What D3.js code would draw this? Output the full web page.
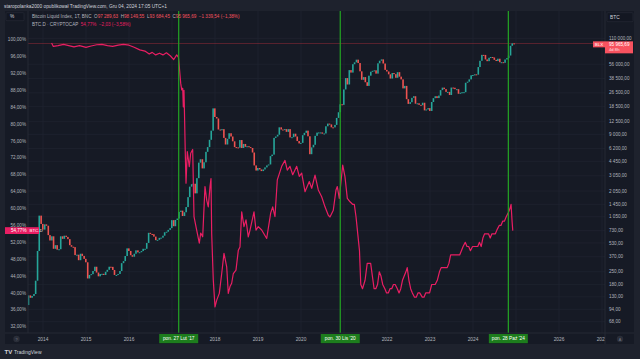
<!DOCTYPE html>
<html><head><meta charset="utf-8">
<script src="https://cdn.jsdelivr.net/npm/d3@7"></script>
<style>
html,body{margin:0;padding:0;background:#1e222d;overflow:hidden}
svg{display:block;font-family:"Liberation Sans","Noto Sans",sans-serif}
text{white-space:pre}
</style></head><body><svg id="c" width="640" height="359"></svg>
<script>
// ---- DATA ----
// BTC (Bitcoin Liquid Index) closes, two per month (mid-month, month-end), starting Aug 2013
const priceStartYear = 2013, priceStartMonth = 7; // Aug 2013 (0-based month)
const btcClose = [
 105,135, 127,133, 140,198, 430,1080, 870,750,
 860,830, 650,565, 630,455, 500,445, 450,630, 590,640, 620,585, 500,480, 475,386, 390,338, 400,378, 350,320,
 210,230, 235,255, 285,245, 222,236, 237,230, 250,263, 285,284, 262,230, 230,236, 255,313, 330,377, 460,430,
 385,370, 400,437, 415,416, 429,455, 455,530, 690,670, 665,625, 570,575, 605,608, 640,700, 710,745, 780,960,
 820,965, 1000,1190, 1230,1070, 1180,1350, 1750,2300, 2450,2480, 1930,2870, 4300,4700, 3700,4340, 5700,6450, 7800,9900, 17700,14150,
 13600,10200, 10000,10300, 8200,6900, 8000,9250, 8500,7500, 6450,6400, 6350,7750, 6300,7000, 6500,6600, 6450,6300, 5600,4000, 3500,3740,
 3600,3450, 3600,3800, 4000,4100, 5100,5300, 8200,8500, 8900,10800, 10200,10100, 10300,9600, 10300,8300, 8350,9150, 8500,7550, 7100,7200,
 8800,9350, 9900,8550, 5360,6400, 6850,8650, 9400,9450, 9450,9150, 9200,11100, 11900,11650, 10800,10780, 11500,13800, 16000,19700, 19400,29000,
 39000,33000, 48000,45000, 56000,58800, 63000,57700, 46500,37300, 40000,35000, 31800,41500, 46000,47100, 47700,43800, 57300,61300, 63500,57000, 48300,46300,
 43000,38500, 44500,43200, 39300,45500, 40500,37700, 29800,31800, 22500,19900, 20800,23300, 24300,20000, 20200,19400, 19200,20500, 16800,17200, 17800,16550,
 20900,23100, 24300,23150, 24700,28500, 30400,29250, 27200,27200, 25100,30450, 30300,29200, 29200,25900, 26600,26950, 27000,34500, 35500,37700, 41900,42250,
 43000,42600, 52000,61200, 71400,71300, 63400,60600, 66200,67500, 66700,62700, 60800,64600, 58900,59000, 58100,63300, 65600,70200, 90500,96400, 95966
];
// BTC dominance (CRYPTOCAP:BTC.D), time as decimal year
const domYears = [
 2014.20,2014.24,2014.35,2014.48,2014.60,2014.72,2014.85,2015.00,2015.12,2015.25,2015.37,2015.50,2015.62,2015.75,2015.87,
 2016.00,2016.12,2016.25,2016.37,2016.47,2016.54,2016.62,2016.71,2016.79,2016.87,2016.96,2017.04,2017.11,2017.15,
 2017.170,2017.202,2017.226,2017.249,2017.263,2017.279,2017.295,2017.309,2017.326,2017.356,2017.402,2017.435,2017.481,
 2017.512,2017.574,2017.635,2017.667,2017.714,2017.767,2017.807,2017.844,2017.884,2017.907,2017.923,2017.960,
 2018.000,2018.040,2018.100,2018.156,2018.209,2018.272,2018.309,2018.349,2018.388,2018.426,2018.488,2018.542,2018.581,
 2018.621,2018.674,2018.721,2018.774,2018.814,2018.907,2018.953,2019.007,2019.086,2019.202,2019.295,2019.342,2019.395,
 2019.449,2019.551,2019.628,2019.681,2019.744,2019.807,2019.844,2019.900,2019.960,2020.016,2020.093,2020.193,2020.249,
 2020.326,2020.402,2020.481,2020.558,2020.635,2020.674,2020.751,2020.814,2020.844,2020.891,2020.970,2021.023,2021.077,2021.140,
 2021.20,2021.24,2021.28,2021.32,2021.36,2021.39,2021.43,2021.49,2021.54,2021.58,2021.62,2021.66,2021.70,2021.74,2021.78,2021.82,2021.86,2021.90,2021.95,2021.99,
 2022.03,2022.07,2022.11,2022.15,2022.19,2022.24,2022.28,2022.32,2022.36,2022.40,2022.44,2022.47,2022.51,2022.55,2022.59,2022.64,2022.68,2022.72,2022.76,2022.82,2022.86,2022.90,2022.94,2022.99,
 2023.04,2023.08,2023.12,2023.17,2023.22,2023.26,2023.30,2023.34,2023.40,2023.44,2023.48,2023.52,2023.56,2023.61,2023.65,2023.69,2023.73,2023.77,2023.82,2023.86,2023.90,2023.94,2023.99,
 2024.03,2024.07,2024.11,2024.15,2024.19,2024.23,2024.27,2024.32,2024.36,2024.40,2024.44,2024.48,2024.52,2024.56,2024.61,2024.65,2024.69,2024.73,2024.77,2024.82,2024.86,2024.885,2024.91,2024.925
];
const domValues = [
 99.2,98.4,98.6,98.9,98.6,98.3,98.6,98.2,98.5,98.8,98.9,98.6,98.4,98.7,98.9,
 98.7,98.2,97.6,97.3,96.6,97.0,96.4,96.8,96.4,96.9,96.2,95.3,96.4,95.8,
 93.6,89.7,88.1,88.5,84.1,88.0,80.2,73.1,66.0,73.5,69.9,73.1,74.0,
 58.1,54.9,51.8,54.2,53.3,65.2,62.0,60.4,65.2,67.1,54.1,43.1,
 36.7,38.3,39.9,44.6,49.4,46.2,39.9,41.5,42.3,44.6,45.4,50.1,50.9,
 59.2,55.7,57.3,53.3,54.9,59.2,54.9,55.7,54.9,52.9,58.9,60.4,58.1,
 66.8,70.0,71.4,69.1,70.0,68.0,68.8,70.0,67.6,68.4,64.0,66.4,64.8,
 67.9,64.4,62.8,60.4,58.4,58.0,59.6,64.4,65.2,62.4,70.3,67.5,62.4,61.6,
 61,61,58,54,50,42,41,43,47,47,47,44,41,41,42,45,44,42,41,40,
 40,41,41,42,42,41,40,41,43,44,45,46,43,41,40,39,39,40,40,39,39,40,40,40,
 42,42,42,43,45,46,46,46,46,47,49,49,49,49,49,49,50,51,52,51,51,50,51,
 51,51,51,52,51,53,54,54,54,53,54,54,54,55,56,56,57,57,58,59,60,61,56.8,54.77
];
const leftTicks = [100,96,92,88,84,80,76,72,68,64,60,56,52,48,44,40,36,32];
const rightTicks = [110000,56000,38500,26500,18500,12500,9000,6200,4450,3050,2050,1450,1050,730,530,370,250,180,130,94,68];
const yearTicks = [2014,2015,2016,2017,2018,2019,2020,2021,2022,2023,2024,2025,2026,2027];
const markerYears = [2017.156, 2020.913, 2024.822];
const markerLabels = ["pon. 27 Lut '17", "pon. 30 Lis '20", "pon. 28 Paź '24"];
const lastPrice = 95965.69, lastDom = 54.77;

// ---- LAYOUT ----
const W = 640, H = 359;
const P = {l: 28, r: 605, t: 11, b: 333};
const svg = d3.select("#c");
const loc = d3.formatLocale({decimal: ",", thousands: " ", grouping: [3], currency: ["", ""]});
const fmtP = loc.format(",.2f");
const fmtPct = d => loc.format(".2f")(d) + "%";

const x = d3.scaleLinear().domain([2014, 2026]).range([43, 559]);
const yL = d3.scaleLinear().domain([32, 100]).range([326.7, 39.7]);
const yR = d3.scaleLog().domain([68, 110000]).range([321.7, 38.3]);

svg.append("rect").attr("width", W).attr("height", H).attr("fill", "#1e222d");
svg.append("rect").attr("x", 5).attr("y", 11).attr("width", 629).attr("height", 333).attr("fill", "#161a25");

// header
svg.append("text").attr("x", 4).attr("y", 7.6).attr("font-size", 4.8).attr("fill", "#d1d4dc")
  .text("staropolanka2000 opublikował TradingView.com, Gru 04, 2024 17:05 UTC+1");

const defs = svg.append("defs");
defs.append("clipPath").attr("id", "plot").append("rect")
  .attr("x", P.l).attr("y", P.t).attr("width", P.r - P.l).attr("height", P.b - P.t);
defs.append("clipPath").attr("id", "taxis").append("rect")
  .attr("x", P.l).attr("y", P.b).attr("width", P.r - P.l).attr("height", 12);

const g = svg.append("g").attr("clip-path", "url(#plot)");
// grid
g.selectAll(".hg").data(rightTicks).join("line")
  .attr("x1", P.l).attr("x2", P.r).attr("y1", d => yR(d)).attr("y2", d => yR(d))
  .attr("stroke", "#1f2330").attr("stroke-width", 0.8);
g.selectAll(".vg").data(yearTicks).join("line")
  .attr("x1", d => x(d)).attr("x2", d => x(d)).attr("y1", P.t).attr("y2", P.b)
  .attr("stroke", "#1f2330").attr("stroke-width", 0.8);

// price line
g.append("line").attr("x1", P.l).attr("x2", P.r).attr("y1", yR(lastPrice)).attr("y2", yR(lastPrice))
  .attr("stroke", "#f23645").attr("stroke-opacity", 0.35).attr("stroke-width", 0.9);

// candles
const candles = btcClose.map((c, i) => {
  const m = priceStartMonth + Math.floor(i / 2);
  const t = priceStartYear + (m + (i % 2 ? 0.95 : 0.48)) / 12;
  const o = i > 0 ? btcClose[i - 1] : c;
  return {t, o, c};
});
g.selectAll(".cd").data(candles).join("rect")
  .attr("x", d => x(d.t) - 0.8).attr("width", 1.6)
  .attr("y", d => yR(Math.max(d.o, d.c)))
  .attr("height", d => Math.max(1, Math.abs(yR(d.o) - yR(d.c))))
  .attr("fill", d => d.c >= d.o ? "#26a69a" : "#ef5350");

// dominance
const domData = domYears.map((t, i) => ({t, v: domValues[i]}));
g.append("path").datum(domData)
  .attr("d", d3.line().x(d => x(d.t)).y(d => yL(d.v)))
  .attr("fill", "none").attr("stroke", "#e91e63").attr("stroke-width", 1.2).attr("stroke-linejoin", "round");

// marker lines
svg.selectAll(".mk").data(markerYears).join("line")
  .attr("x1", d => x(d)).attr("x2", d => x(d)).attr("y1", P.t).attr("y2", P.b)
  .attr("stroke", "#23a523").attr("stroke-width", 1.2);

// borders
svg.append("line").attr("x1", P.l).attr("x2", P.l).attr("y1", P.t).attr("y2", P.b).attr("stroke", "#2a2e39").attr("stroke-width", 0.8);
svg.append("line").attr("x1", P.r).attr("x2", P.r).attr("y1", P.t).attr("y2", 344).attr("stroke", "#2a2e39").attr("stroke-width", 0.8);
svg.append("line").attr("x1", 5).attr("x2", 634).attr("y1", P.b).attr("y2", P.b).attr("stroke", "#2a2e39").attr("stroke-width", 0.8);

// left axis labels
svg.selectAll(".lt").data(leftTicks).join("text")
  .attr("x", 26).attr("y", d => yL(d) + 1.6).attr("text-anchor", "end")
  .attr("font-size", 4.6).attr("fill", "#b2b5be").text(fmtPct);
// right axis labels
svg.selectAll(".rt").data(rightTicks).join("text")
  .attr("x", 609).attr("y", d => yR(d) + 1.6)
  .attr("font-size", 4.6).attr("fill", "#b2b5be").text(fmtP);

// time axis labels
const tg = svg.append("g").attr("clip-path", "url(#taxis)");
tg.selectAll(".yt").data(yearTicks.filter(yv => markerYears.every(m => Math.abs(x(m) - x(yv)) > 24))).join("text")
  .attr("x", d => x(d)).attr("y", 340.8).attr("text-anchor", "middle")
  .attr("font-size", 4.8).attr("fill", "#b2b5be").text(d => d);
markerYears.forEach((m, i) => {
  const cx = x(m);
  svg.append("rect").attr("x", cx - 19.5).attr("y", 334).attr("width", 39).attr("height", 9.2).attr("fill", "#1d7d1d");
  svg.append("text").attr("x", cx).attr("y", 340.4).attr("text-anchor", "middle")
    .attr("font-size", 4.8).attr("fill", "#ffffff").text(markerLabels[i]);
});

// left dominance tag
const yd = yL(lastDom);
svg.append("rect").attr("x", 5).attr("y", yd - 3.4).attr("width", 23).attr("height", 6.8).attr("fill", "#e91e63");
svg.append("text").attr("x", 26.5).attr("y", yd + 1.6).attr("text-anchor", "end").attr("font-size", 4.6).attr("fill", "#fff").text(fmtPct(lastDom));
svg.append("rect").attr("x", 28).attr("y", yd - 3.4).attr("width", 11).attr("height", 6.8).attr("fill", "#e91e63");
svg.append("text").attr("x", 29.5).attr("y", yd + 1.6).attr("font-size", 4.4).attr("fill", "#fff").text("BTC.D");

// right price tag
const yp = yR(lastPrice);
svg.append("rect").attr("x", 593).attr("y", yp - 2.2).attr("width", 12).attr("height", 6).attr("fill", "#f7525f");
svg.append("text").attr("x", 599).attr("y", yp + 2.2).attr("text-anchor", "middle").attr("font-size", 4.4).attr("fill", "#fff").text("BLX");
svg.append("rect").attr("x", 605).attr("y", yp - 2.2).attr("width", 28).attr("height", 12).attr("fill", "#f7525f");
svg.append("text").attr("x", 609).attr("y", yp + 2.2).attr("font-size", 4.6).attr("fill", "#fff").text(fmtP(lastPrice));
svg.append("text").attr("x", 609).attr("y", yp + 7.8).attr("font-size", 4.2).attr("fill", "#fde0e2").text("4d 8h");

// scale boxes
svg.append("rect").attr("x", 6).attr("y", 12.7).attr("width", 18).attr("height", 8).attr("rx", 1).attr("fill", "#131722").attr("stroke", "#2a2e39").attr("stroke-width", 0.6);
svg.append("text").attr("x", 10).attr("y", 18.4).attr("font-size", 4.8).attr("fill", "#d1d4dc").text("%");
svg.append("rect").attr("x", 607).attr("y", 12.7).attr("width", 26).attr("height", 9).attr("rx", 1).attr("fill", "#131722").attr("stroke", "#2a2e39").attr("stroke-width", 0.6);
svg.append("text").attr("x", 610).attr("y", 18.8).attr("font-size", 4.8).attr("fill", "#d1d4dc").text("BTC");

// legend
const lg1 = svg.append("text").attr("x", 32).attr("y", 18.3).attr("font-size", 4.6);
lg1.append("tspan").attr("fill", "#b2b5be").text("Bitcoin Liquid Index, 1T, BNC  ");
[["O", "97 289,63"], ["H", "98 149,55"], ["L", "93 684,45"], ["C", "95 965,69"]].forEach(([k, v]) => {
  lg1.append("tspan").attr("fill", "#b2b5be").text(k);
  lg1.append("tspan").attr("fill", "#f7525f").text(v + "  ");
});
lg1.append("tspan").attr("fill", "#f7525f").text("−1 339,54 (−1,38%)");
const lg2 = svg.append("text").attr("x", 32).attr("y", 25.6).attr("font-size", 4.6);
lg2.append("tspan").attr("fill", "#b2b5be").text("BTC.D · CRYPTOCAP  ");
lg2.append("tspan").attr("fill", "#e91e63").text("54,77%  −2,03 (−3,58%)");

// bottom icons
svg.append("circle").attr("cx", 16.5).attr("cy", 339).attr("r", 3.2).attr("fill", "#2a2e39");
svg.append("text").attr("x", 16.5).attr("y", 340.5).attr("text-anchor", "middle").attr("font-size", 3.8).attr("fill", "#787b86").text("?");
svg.append("circle").attr("cx", 620).attr("cy", 339).attr("r", 3.2).attr("fill", "#2a2e39");
svg.append("text").attr("x", 620).attr("y", 340.5).attr("text-anchor", "middle").attr("font-size", 3.8).attr("fill", "#787b86").text("A");

// footer
svg.append("text").attr("x", 4.5).attr("y", 354).attr("font-size", 6).attr("font-weight", "bold").attr("fill", "#d1d4dc").text("TV");
svg.append("text").attr("x", 14).attr("y", 354).attr("font-size", 5).attr("fill", "#d1d4dc").text("TradingView");
</script></body></html>
